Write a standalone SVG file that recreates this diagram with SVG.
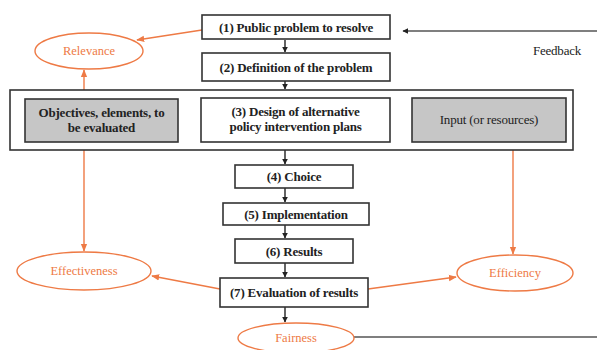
<svg xmlns="http://www.w3.org/2000/svg" width="597" height="350" viewBox="0 0 597 350" font-family="Liberation Serif, serif">
<defs>
<style>
.box{fill:#fff;stroke:#333;stroke-width:1.6}
.gbox{fill:#c6c6c6;stroke:#333;stroke-width:1.6}
.t{font-family:"Liberation Serif",serif;font-weight:bold;font-size:13px;fill:#222;text-anchor:middle;letter-spacing:-0.2px}
.ell{fill:#fff;stroke:#ee7a45;stroke-width:1.4}
.et{font-family:"Liberation Serif",serif;font-size:12.5px;fill:#ee7a45;text-anchor:middle}
.blk{stroke:#222;stroke-width:1.4;fill:none}
.org{stroke:#ee7a45;stroke-width:1.4;fill:none}
.gry{stroke:#555;stroke-width:1.4;fill:none}
</style>
<marker id="ab" viewBox="0 0 10 10" refX="9" refY="5" markerWidth="6" markerHeight="6" orient="auto" markerUnits="userSpaceOnUse"><path d="M0,0 L10,5 L0,10 z" fill="#222"/></marker>
<marker id="ao" viewBox="0 0 10 10" refX="9" refY="5" markerWidth="8" markerHeight="8" orient="auto" markerUnits="userSpaceOnUse"><path d="M0,1 L10,5 L0,9 z" fill="#ee7a45"/></marker>
</defs>
<rect width="597" height="350" fill="#fff"/>
<g id="connectors">
<line class="blk" x1="285" y1="40" x2="285" y2="52" marker-end="url(#ab)"/>
<line class="blk" x1="285" y1="81" x2="285" y2="89" marker-end="url(#ab)"/>
<line class="blk" x1="285" y1="150" x2="285" y2="164" marker-end="url(#ab)"/>
<line class="blk" x1="285" y1="188" x2="285" y2="202" marker-end="url(#ab)"/>
<line class="blk" x1="285" y1="225" x2="285" y2="238" marker-end="url(#ab)"/>
<line class="blk" x1="285" y1="263" x2="285" y2="277" marker-end="url(#ab)"/>
<line class="blk" x1="285" y1="307" x2="285" y2="322" marker-end="url(#ab)"/>
<line class="gry" x1="597" y1="31" x2="403" y2="31" marker-end="url(#ab)"/>
<line class="gry" x1="354" y1="337" x2="597" y2="337"/>
<line class="org" x1="202" y1="30" x2="137" y2="40" marker-end="url(#ao)"/>
<line class="org" x1="84" y1="90" x2="84" y2="70" marker-end="url(#ao)"/>
<line class="org" x1="84" y1="150" x2="84" y2="251" marker-end="url(#ao)"/>
<line class="org" x1="513" y1="150" x2="513" y2="254" marker-end="url(#ao)"/>
<line class="org" x1="220" y1="289" x2="152" y2="276" marker-end="url(#ao)"/>
<line class="org" x1="368" y1="289" x2="456" y2="277" marker-end="url(#ao)"/>
</g>
<g id="n1"><rect class="box" x="202" y="15" width="188" height="24"/><text class="t" x="296" y="31.5">(1) Public problem to resolve</text></g>
<g id="n2"><rect class="box" x="202" y="53" width="188" height="28"/><text class="t" x="296" y="71.5">(2) Definition of the problem</text></g>
<g id="outer"><rect class="box" x="10" y="90" width="563" height="60"/></g>
<g id="objectives"><rect class="gbox" x="25" y="99" width="153" height="43"/><text class="t" x="101.5" y="117">Objectives, elements, to</text><text class="t" x="101.5" y="132">be evaluated</text></g>
<g id="n3"><rect class="box" x="201" y="98" width="189" height="44"/><text class="t" x="295.5" y="116">(3) Design of alternative</text><text class="t" x="295.5" y="131">policy intervention plans</text></g>
<g id="input"><rect class="gbox" x="412" y="98" width="154" height="44"/><text class="t" x="489" y="124" style="font-weight:normal">Input (or resources)</text></g>
<g id="n4"><rect class="box" x="235" y="165" width="118" height="23"/><text class="t" x="294" y="181">(4) Choice</text></g>
<g id="n5"><rect class="box" x="223" y="203" width="146" height="22"/><text class="t" x="296" y="218.5">(5) Implementation</text></g>
<g id="n6"><rect class="box" x="235" y="239" width="118" height="24"/><text class="t" x="294" y="255.5">(6) Results</text></g>
<g id="n7"><rect class="box" x="220" y="278" width="148" height="29"/><text class="t" x="294" y="297">(7) Evaluation of results</text></g>
<g id="relevance"><ellipse class="ell" cx="89" cy="51" rx="54" ry="18"/><text class="et" x="89" y="55">Relevance</text></g>
<g id="effectiveness"><ellipse class="ell" cx="84" cy="271" rx="67" ry="19"/><text class="et" x="84" y="275">Effectiveness</text></g>
<g id="efficiency"><ellipse class="ell" cx="515" cy="273" rx="58" ry="18"/><text class="et" x="515" y="277">Efficiency</text></g>
<g id="fairness"><ellipse class="ell" cx="296" cy="338" rx="58" ry="15"/><text class="et" x="296" y="342">Fairness</text></g>
<g id="feedback"><text class="t" x="557" y="55" style="font-weight:normal;fill:#222">Feedback</text></g>
</svg>
